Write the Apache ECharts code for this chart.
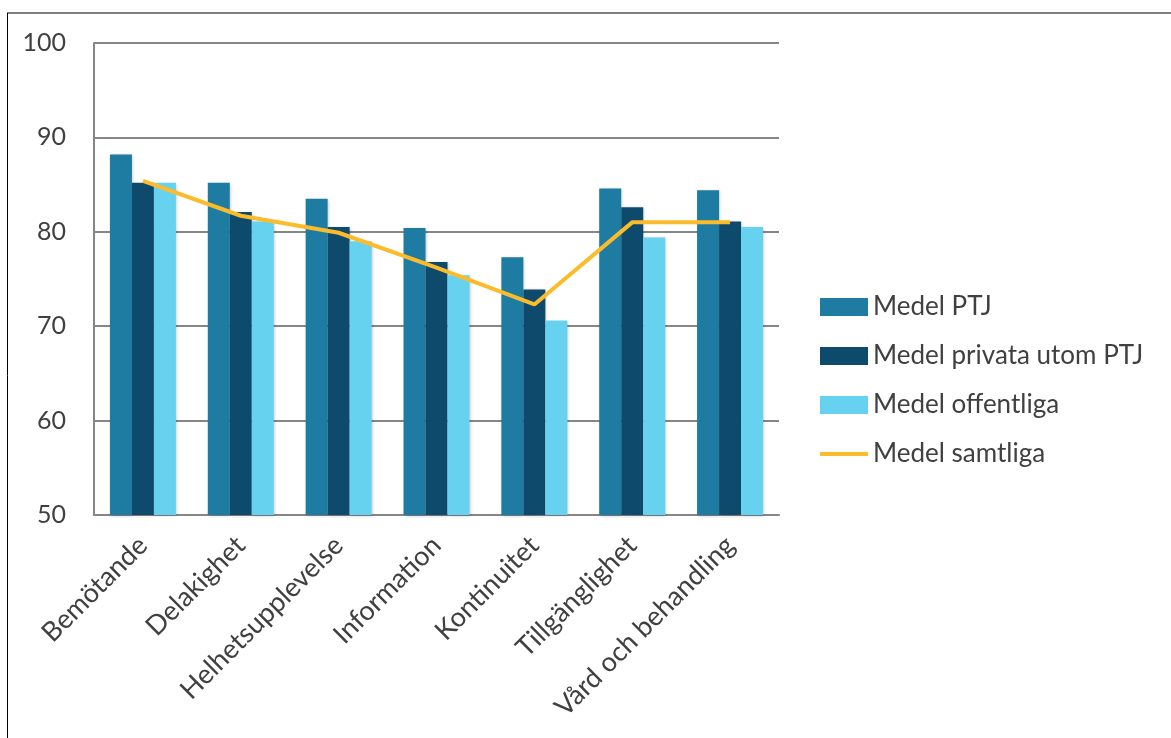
<!DOCTYPE html>
<html><head><meta charset="utf-8">
<script src="https://cdn.jsdelivr.net/npm/echarts@6/dist/echarts.min.js"></script>
<style>html,body{margin:0;padding:0;background:#fff}#c{width:1171px;height:738px}</style>
</head><body><div id="c"></div>
<script>
const categories = ['Bemötande','Delakighet','Helhetsupplevelse','Information','Kontinuitet','Tillgänglighet','Vård och behandling'];
const medelPTJ = [88.2, 85.2, 83.5, 80.4, 77.3, 84.6, 84.4];
const medelPrivata = [85.2, 82.1, 80.5, 76.8, 73.9, 82.6, 81.1];
const medelOffentliga = [85.2, 81.1, 79.0, 75.4, 70.6, 79.4, 80.5];
const medelSamtliga = [85.4, 81.7, 79.9, 76.2, 72.3, 81.0, 81.0];
const yTicks = {min: 50, max: 100, interval: 10};

const font = 'Lato';
const txt = '#404040';
const chart = echarts.init(document.getElementById('c'), null, {renderer: 'canvas'});
const barShadow = {shadowColor: 'rgba(0,0,0,0.22)', shadowBlur: 3, shadowOffsetX: 1, shadowOffsetY: 1};
chart.setOption({
  animation: false,
  backgroundColor: '#fff',
  textStyle: {fontFamily: font},
  graphic: [
    {type: 'line', shape: {x1: 7, y1: 13, x2: 1171, y2: 13}, style: {stroke: '#7f7f7f', lineWidth: 2}},
    {type: 'line', shape: {x1: 7.5, y1: 13, x2: 7.5, y2: 738}, style: {stroke: '#000', lineWidth: 1}}
  ],
  grid: {left: 94, right: 392, top: 43, bottom: 223, containLabel: false},
  legend: {
    orient: 'vertical', left: 815, top: 289, itemWidth: 48, itemHeight: 18, itemGap: 23,
    textStyle: {fontFamily: font, fontSize: 26, lineHeight: 26, color: txt},
    data: [
      {name: 'Medel PTJ', icon: 'rect'},
      {name: 'Medel privata utom PTJ', icon: 'rect'},
      {name: 'Medel offentliga', icon: 'rect'},
      {name: 'Medel samtliga', icon: 'path://M0,0M48,18M0,7H48V11H0Z'}
    ]
  },
  xAxis: {
    type: 'category', data: categories,
    axisLine: {show: true, lineStyle: {color: '#868686', width: 2}},
    axisTick: {show: false},
    axisLabel: {rotate: 45, fontFamily: font, fontSize: 27, color: txt, margin: 26, interval: 0}
  },
  yAxis: {
    type: 'value', min: yTicks.min, max: yTicks.max, interval: yTicks.interval,
    axisLine: {show: true, lineStyle: {color: '#868686', width: 2}},
    axisTick: {show: false},
    axisLabel: {fontFamily: font, fontSize: 25, color: txt, margin: 28},
    splitLine: {lineStyle: {color: '#868686', width: 2}}
  },
  series: [
    {name: 'Medel PTJ', type: 'bar', data: medelPTJ, barWidth: 22, barGap: '0%',
     itemStyle: Object.assign({color: '#1e7ca3'}, barShadow)},
    {name: 'Medel privata utom PTJ', type: 'bar', data: medelPrivata, barWidth: 22, barGap: '0%',
     itemStyle: Object.assign({color: '#0e4a6c'}, barShadow)},
    {name: 'Medel offentliga', type: 'bar', data: medelOffentliga, barWidth: 22, barGap: '0%',
     itemStyle: Object.assign({color: '#67d2f0'}, barShadow)},
    {name: 'Medel samtliga', type: 'line', data: medelSamtliga, showSymbol: false, symbol: 'none',
     lineStyle: {color: '#fbbc2c', width: 4}, itemStyle: {color: '#fbbc2c'}, z: 5}
  ]
});
</script></body></html>
